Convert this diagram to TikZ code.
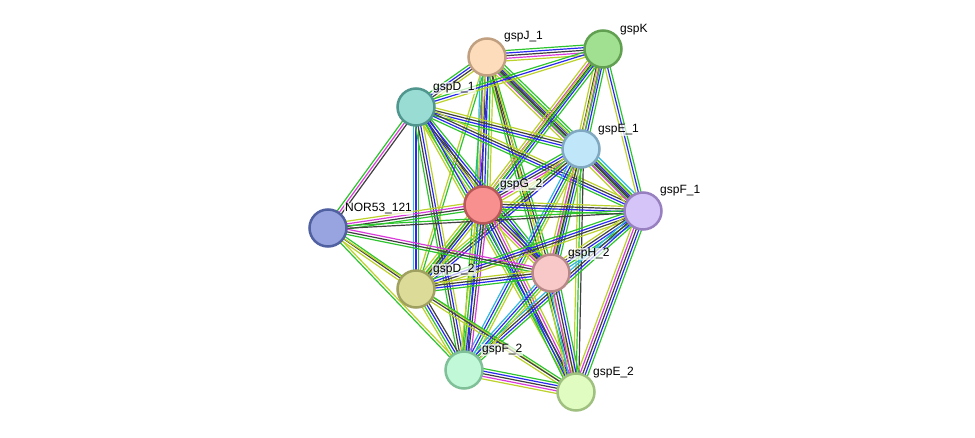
\documentclass[tikz,border=0pt]{standalone}
\usepackage{fontspec}
\setmainfont{Liberation Sans}
\usetikzlibrary{calc,backgrounds}

\definecolor{nb}{HTML}{2EC42E}
\definecolor{co}{HTML}{2828F0}
\definecolor{cx}{HTML}{404040}
\definecolor{ex}{HTML}{D93AD9}
\definecolor{db}{HTML}{30B8E0}
\definecolor{tm}{HTML}{BCD12A}

\definecolor{fJ}{HTML}{FDDCBC}  \definecolor{bJ}{HTML}{C0A080}
\definecolor{fK}{HTML}{A0E090}  \definecolor{bK}{HTML}{60A050}
\definecolor{fD1}{HTML}{98DCD4} \definecolor{bD1}{HTML}{50968E}
\definecolor{fE1}{HTML}{C0E6FA} \definecolor{bE1}{HTML}{80A8C0}
\definecolor{fG2}{HTML}{F89090} \definecolor{bG2}{HTML}{B85858}
\definecolor{fF1}{HTML}{D4C4F8} \definecolor{bF1}{HTML}{9880C0}
\definecolor{fN}{HTML}{98A4E0}  \definecolor{bN}{HTML}{5060A0}
\definecolor{fD2}{HTML}{DCDC98} \definecolor{bD2}{HTML}{A0A060}
\definecolor{fH2}{HTML}{F8C8C8} \definecolor{bH2}{HTML}{B88888}
\definecolor{fF2}{HTML}{C0F8D8} \definecolor{bF2}{HTML}{80C098}
\definecolor{fE2}{HTML}{E0FCC0} \definecolor{bE2}{HTML}{A0C080}

\newcount\nlines
\newcommand\link[3]{%
  \global\nlines=0
  \foreach \c in {#3}{\global\advance\nlines by 1}
  \foreach \c [count=\i] in {#3}{
    \pgfmathsetmacro\off{(\i-(\the\nlines+1)/2)*2.6}
    \draw[line width=1.2pt, color=\c] ($(#1)!\off pt!90:(#2)$) -- ($(#2)!\off pt!-90:(#1)$);
  }}

\begin{document}
\begin{tikzpicture}[x=1pt, y=-1pt,
    prot/.style = { circle, minimum size = 37pt, inner sep = 0, line width = 2.5pt,
                    fill = f#1, draw = b#1 },
    lab/.style = { anchor = west, font = \fontsize{12}{14}\selectfont, fill = white,
                   fill opacity = .7, text opacity = 1, inner sep = 1pt }]
  \useasboundingbox (0,0) rectangle (975,438);

  \node [prot=J]  (J)  at (487,57)  {};
  \node [prot=K]  (K)  at (603,49)  {};
  \node [prot=D1] (D1) at (416,107) {};
  \node [prot=E1] (E1) at (581,149) {};
  \node [prot=G2] (G2) at (483,205) {};
  \node [prot=F1] (F1) at (643,211) {};
  \node [prot=N]  (N)  at (328,228) {};
  \node [prot=D2] (D2) at (416,289) {};
  \node [prot=H2] (H2) at (551,273) {};
  \node [prot=F2] (F2) at (464,370) {};
  \node [prot=E2] (E2) at (576,392) {};

  \node [lab] (J-l)  at ([xshift=16pt, yshift=20pt]J.center)  {gspJ\_1};
  \node [lab] (K-l)  at ([xshift=16pt, yshift=19pt]K.center)  {gspK};
  \node [lab] (D1-l) at ([xshift=16pt, yshift=19pt]D1.center) {gspD\_1};
  \node [lab] (E1-l) at ([xshift=16pt, yshift=19pt]E1.center) {gspE\_1};
  \node [lab] (G2-l) at ([xshift=16pt, yshift=20pt]G2.center) {gspG\_2};
  \node [lab] (F1-l) at ([xshift=16pt, yshift=20pt]F1.center) {gspF\_1};
  \node [lab] (N-l)  at ([xshift=16pt, yshift=19pt]N.center)  {NOR53\_121};
  \node [lab] (D2-l) at ([xshift=16pt, yshift=19pt]D2.center) {gspD\_2};
  \node [lab] (H2-l) at ([xshift=16pt, yshift=19pt]H2.center) {gspH\_2};
  \node [lab] (F2-l) at ([xshift=17pt, yshift=20pt]F2.center) {gspF\_2};
  \node [lab] (E2-l) at ([xshift=16pt, yshift=19pt]E2.center) {gspE\_2};

  \begin{pgfonlayer}{background}
    % evidence bundles
    \link{J}{K}{tm,ex,cx,co,nb}
    \link{J}{D1}{nb,co,cx,tm}
    \link{J}{E1}{tm,ex,cx,co,nb,nb}
    \link{J}{G2}{db,ex,cx,co,nb,tm}
    \link{J}{F1}{nb,cx,tm}
    \link{J}{H2}{tm,cx,nb}
    \link{J}{D2}{tm,nb}
    \link{J}{F2}{nb,tm,co}
    \link{J}{E2}{nb,cx,tm}
    \link{K}{D1}{nb,co,tm}
    \link{K}{E1}{tm,cx,ex,co,nb}
    \link{K}{G2}{tm,ex,cx,co,nb}
    \link{K}{F1}{tm,co,nb}
    \link{K}{H2}{tm,nb}
    \link{K}{D2}{tm,nb}
    \link{D1}{E1}{nb,co,cx,tm}
    \link{D1}{G2}{tm,nb,co,cx}
    \link{D1}{F1}{nb,co,cx,tm}
    \link{D1}{N}{nb,ex,cx}
    \link{D1}{D2}{db,co,nb}
    \link{D1}{H2}{tm,cx,co,nb}
    \link{D1}{F2}{nb,cx,co,tm}
    \link{D1}{E2}{tm,nb,co}
    \link{E1}{G2}{nb,co,cx,ex,tm}
    \link{E1}{F1}{tm,ex,cx,co,nb,db}
    \link{E1}{H2}{tm,ex,cx,co,nb}
    \link{E1}{D2}{tm,nb,cx,co}
    \link{E1}{F2}{db,co,nb,tm}
    \link{E1}{E2}{tm,nb,cx}
    \link{G2}{F1}{nb,co,cx,tm}
    \link{G2}{N}{tm,ex,cx,nb}
    \link{G2}{D2}{tm,nb,cx,co,tm}
    \link{G2}{H2}{tm,ex,cx,co,nb}
    \link{G2}{F2}{tm,nb,co,cx,ex}
    \link{G2}{E2}{nb,co,cx,ex,tm}
    \link{F1}{N}{nb,cx}
    \link{F1}{D2}{nb,co,cx,tm}
    \link{F1}{H2}{tm,cx,co,nb,db}
    \link{F1}{F2}{db,cx,co,nb}
    \link{F1}{E2}{tm,ex,cx,co,nb}
    \link{N}{H2}{nb,cx,ex}
    \link{N}{D2}{tm,cx,nb}
    \link{N}{F2}{nb,tm}
    \link{N}{E2}{tm}
    \link{D2}{H2}{nb,co,cx,tm}
    \link{D2}{F2}{tm,nb,co,cx}
    \link{D2}{E2}{tm,cx,nb}
    \link{H2}{F2}{db,co,nb,tm}
    \link{H2}{E2}{tm,db,ex,cx,co,nb}
    \link{F2}{E2}{tm,ex,cx,co,nb}
  \end{pgfonlayer}
\end{tikzpicture}
\end{document}
